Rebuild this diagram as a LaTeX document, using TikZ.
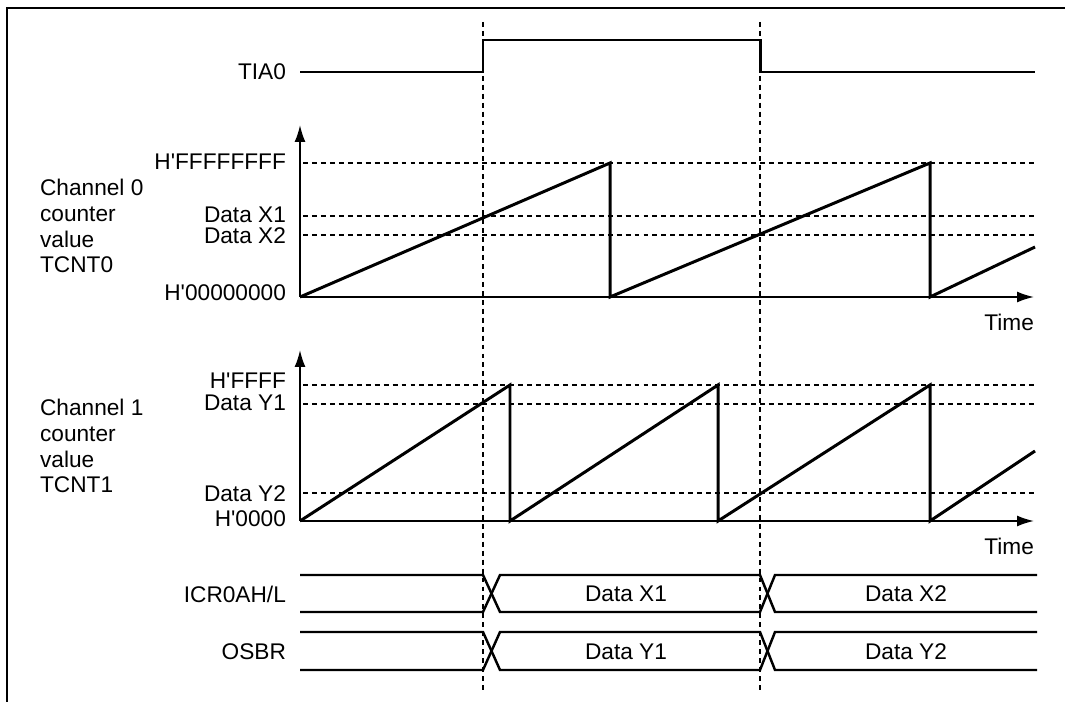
\documentclass[tikz,border=0pt]{standalone}
\usepackage{fontspec}
\setmainfont{Liberation Sans}
\usetikzlibrary{arrows.meta,positioning,calc}
\newcommand{\hq}{\textquotesingle{}}
\tikzset{
  sig/.style={line width=1.7pt,line join=miter},
  bus/.style={line width=1.4pt},
  axis/.style={line width=1pt,-{Latex[length=3.4mm,width=2.2mm]}},
  guide/.style={dashed,line width=0.6pt,dash pattern=on 2.8pt off 2.3pt},
  lbl/.style={font=\fontsize{12.9}{14.7}\selectfont,inner sep=1pt},
  lvl/.style={lbl,anchor=east},
  chan/.style={lbl,align=left,anchor=west},
}

\begin{document}
\begin{tikzpicture}[x=0.02cm,y=-0.02cm]
  \useasboundingbox (0,0) rectangle (1065,702);
  \draw[line width=1.6pt] (7,702) -- (7,8) -- (1065,8);
  % edges of TIA0
  \foreach \x in {483,760} \draw[guide] (\x,22) -- (\x,690);
  % TIA0
  \node[lvl] (tia) at (288,72) {TIA0};
  \draw[sig] (300,72) -- (483,72) -- (483,40) -- (760,40) -- (760,72) -- (1035,72);
  % channel 0
  \coordinate (o0) at (300,297);
  \node[chan] (ch0) at (38,226) {Channel 0\\counter\\value\\TCNT0};
  \node[lvl] (max0) at (288,162) {H\hq FFFFFFFF};
  \node[lvl] (x1) at (288,215) {Data X1};
  \node[lvl] (x2) at (288,236) {Data X2};
  \node[lvl] (min0) at (288,293) {H\hq 00000000};
  \foreach \y in {163,216,235} \draw[guide] (303,\y) -- (1035,\y);
  \draw[axis] (o0) -- (300,125);
  \draw[axis] (o0) -- (1034,297);
  \node[lvl] (t0) at (1036,322) {Time};
  \draw[sig] (o0) -- (610,163) -- (610,297) -- (930,163) -- (930,297) -- (1035,247);
  % channel 1
  \coordinate (o1) at (300,521);
  \node[chan] (ch1) at (38,446) {Channel 1\\counter\\value\\TCNT1};
  \node[lvl] (max1) at (288,381) {H\hq FFFF};
  \node[lvl] (y1) at (288,403) {Data Y1};
  \node[lvl] (y2) at (288,494) {Data Y2};
  \node[lvl] (min1) at (288,519) {H\hq 0000};
  \foreach \y in {385,404,493} \draw[guide] (303,\y) -- (1035,\y);
  \draw[axis] (o1) -- (300,350);
  \draw[axis] (o1) -- (1034,521);
  \node[lvl] (t1) at (1036,546) {Time};
  \draw[sig] (o1) -- (510,385) -- (510,521) -- (718,385) -- (718,521)
    -- (930,385) -- (930,521) -- (1035,451);
  % registers
  \foreach \t/\b in {575/612,632/670} {
    \draw[bus] (300,\t) -- (483,\t) -- (500,\b) -- (760,\b) -- (775,\t) -- (1037,\t);
    \draw[bus] (300,\b) -- (483,\b) -- (500,\t) -- (760,\t) -- (775,\b) -- (1037,\b);
  }
  \node[lvl] (icr) at (288,594) {ICR0AH/L};
  \node[lvl] (osbr) at (288,652) {OSBR};
  \node[lbl] (dx1) at (626,594) {Data X1};
  \node[lbl] (dx2) at (906,594) {Data X2};
  \node[lbl] (dy1) at (626,652) {Data Y1};
  \node[lbl] (dy2) at (906,652) {Data Y2};
\end{tikzpicture}
\end{document}
